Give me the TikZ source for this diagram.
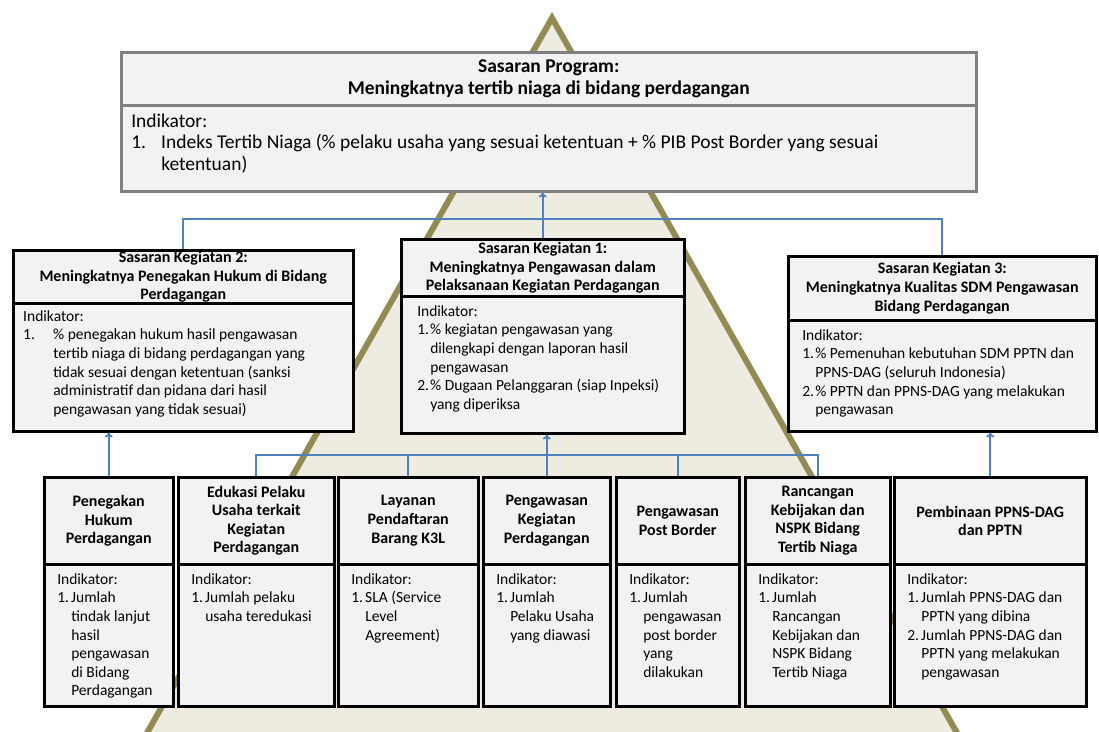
\documentclass[tikz,border=0pt]{standalone}
\usepackage{fontspec}
\setmainfont{Carlito}
\usepackage{array}
\usetikzlibrary{arrows.meta}

\definecolor{boxfill}{HTML}{F2F2F2}
\definecolor{rimgray}{HTML}{7F7F7F}
\definecolor{linkblue}{HTML}{4F81BD}
\definecolor{tanfill}{HTML}{EEECE1}
\definecolor{tanedge}{HTML}{948A54}

\newcommand{\bigfont}{\fontsize{19.5}{21.5}\selectfont}
\newcommand{\headfont}{\fontsize{16}{18.6}\selectfont\bfseries}
\newcommand{\bodyfont}{\fontsize{15.5}{18.6}\selectfont}
% list of indicators: #1 = hang width, #2 = rows
\newcommand{\indik}[2]{\begin{tabular}[t]{@{}p{#1}@{}l@{}}\multicolumn{2}{@{}l@{}}{Indikator:}\\#2\end{tabular}}
% text pane pinned to the top of a box
\newcommand{\pane}[3]{\parbox[t][#2][t]{#1}{#3}}

\begin{document}
\begin{tikzpicture}[
    x=1pt, y=-1pt,
    >={To[length=5pt,width=8pt]},
    headbox/.style={
        draw=black,
        line width=2.5pt,
        fill=boxfill,
        anchor=north west,
        inner sep=0pt,
        align=center,
        font=\headfont
    },
    bodybox/.style={
        draw=black,
        line width=2.5pt,
        fill=boxfill,
        anchor=north west,
        inner xsep=13pt,
        inner ysep=7pt,
        font=\bodyfont
    },
    link/.style={draw=linkblue, line width=1.8pt}
]
    \useasboundingbox (0,0) rectangle (1099,731);
    \fill[white] (0,0) rectangle (1099,731);

    % background triangle
    \begin{scope}
        \clip (0,0) rectangle (1099,731);
        \draw[tanedge, line width=6pt, fill=tanfill] (552,18) -- (109,800) -- (995,800) -- cycle;
    \end{scope}

    % program target
    \node[headbox, draw=rimgray, font=\bigfont\bfseries, minimum width=855, minimum height=53] (progt) at (120,51)
        {Sasaran Program:\\Meningkatnya tertib niaga di bidang perdagangan};
    \node[bodybox, draw=rimgray, font=\bigfont, inner xsep=10pt] (progb) at (120,104)
        {\pane{835pt}{72pt}{\indik{30pt}{1.&Indeks Tertib Niaga (\% pelaku usaha yang sesuai ketentuan + \% PIB Post Border yang sesuai\\&ketentuan)}}};

    % activity targets
    \node[headbox, minimum width=340, minimum height=53] (sk2t) at (12,249)
        {Sasaran Kegiatan 2:\\Meningkatnya Penegakan Hukum di Bidang\\Perdagangan};
    \node[bodybox, inner xsep=10pt, inner ysep=5pt] (sk2b) at (12,302)
        {\pane{320pt}{118pt}{\indik{30pt}{1.&\% penegakan hukum  hasil pengawasan\\&tertib niaga di bidang perdagangan yang\\&tidak sesuai dengan ketentuan (sanksi\\&administratif dan pidana dari hasil\\&pengawasan yang tidak sesuai)}}};

    \node[headbox, minimum width=283, minimum height=57] (sk1t) at (400,238)
        {Sasaran Kegiatan 1:\\Meningkatnya Pengawasan dalam\\Pelaksanaan Kegiatan Perdagangan};
    \node[bodybox, inner xsep=16pt] (sk1b) at (400,295)
        {\pane{251pt}{123pt}{\indik{13pt}{1.&\% kegiatan pengawasan yang\\&dilengkapi dengan laporan hasil\\&pengawasan\\2.&\% Dugaan Pelanggaran (siap Inpeksi)\\&yang diperiksa}}};

    \node[headbox, minimum width=308, minimum height=64] (sk3t) at (787,255)
        {Sasaran Kegiatan 3:\\Meningkatnya Kualitas SDM Pengawasan\\Bidang Perdagangan};
    \node[bodybox, inner xsep=14pt] (sk3b) at (787,319)
        {\pane{280pt}{97pt}{\indik{13pt}{1.&\% Pemenuhan kebutuhan SDM PPTN dan\\&PPNS-DAG (seluruh Indonesia)\\2.&\% PPTN dan PPNS-DAG yang melakukan\\&pengawasan}}};

    % programme outputs
    \node[headbox, minimum width=129, minimum height=87] (t1) at (43,476) {Penegakan\\Hukum\\Perdagangan};
    \node[bodybox] (b1) at (43,563)
        {\pane{103pt}{128pt}{\indik{14pt}{1.&Jumlah\\&tindak lanjut\\&hasil\\&pengawasan\\&di Bidang\\&Perdagangan}}};

    \node[headbox, minimum width=156, minimum height=87] (t2) at (177,476) {Edukasi Pelaku\\Usaha terkait\\Kegiatan\\Perdagangan};
    \node[bodybox] (b2) at (177,563)
        {\pane{130pt}{128pt}{\indik{14pt}{1.&Jumlah pelaku\\&usaha teredukasi}}};

    \node[headbox, minimum width=140, minimum height=87] (t3) at (337,476) {Layanan\\Pendaftaran\\Barang K3L};
    \node[bodybox] (b3) at (337,563)
        {\pane{114pt}{128pt}{\indik{14pt}{1.&SLA (Service\\&Level\\&Agreement)}}};

    \node[headbox, minimum width=127, minimum height=87] (t4) at (482,476) {Pengawasan\\Kegiatan\\Perdagangan};
    \node[bodybox] (b4) at (482,563)
        {\pane{101pt}{128pt}{\indik{14pt}{1.&Jumlah\\&Pelaku Usaha\\&yang diawasi}}};

    \node[headbox, minimum width=123, minimum height=87] (t5) at (615,476) {Pengawasan\\Post Border};
    \node[bodybox] (b5) at (615,563)
        {\pane{97pt}{128pt}{\indik{14pt}{1.&Jumlah\\&pengawasan\\&post border\\&yang\\&dilakukan}}};

    \node[headbox, minimum width=145, minimum height=87] (t6) at (744,476) {Rancangan\\Kebijakan dan\\NSPK Bidang\\Tertib Niaga};
    \node[bodybox] (b6) at (744,563)
        {\pane{119pt}{128pt}{\indik{14pt}{1.&Jumlah\\&Rancangan\\&Kebijakan dan\\&NSPK Bidang\\&Tertib Niaga}}};

    \node[headbox, minimum width=192, minimum height=87] (t7) at (893,476) {Pembinaan PPNS-DAG\\dan PPTN};
    \node[bodybox] (b7) at (893,563)
        {\pane{166pt}{128pt}{\indik{14pt}{1.&Jumlah PPNS-DAG dan\\&PPTN yang dibina\\2.&Jumlah PPNS-DAG dan\\&PPTN yang melakukan\\&pengawasan}}};

    % links
    \coordinate (topbus) at (0,219);
    \coordinate (lowbus) at (0,455);
    \draw[link, ->] (sk1t.north) -- (sk1t.north |- progb.south);
    \draw[link] (sk2t.north) |- (topbus -| sk3t.north) -- (sk3t.north);
    \draw[link, ->] (t1.north) -- (t1.north |- sk2b.south);
    \draw[link] (t2.north) |- (lowbus -| t6.north) -- (t6.north);
    \draw[link] (t3.north) -- (t3.north |- lowbus);
    \draw[link] (t5.north) -- (t5.north |- lowbus);
    \draw[link, ->] (t4.north) -- (t4.north |- sk1b.south);
    \draw[link, ->] (t7.north) -- (t7.north |- sk3b.south);
\end{tikzpicture}
\end{document}
